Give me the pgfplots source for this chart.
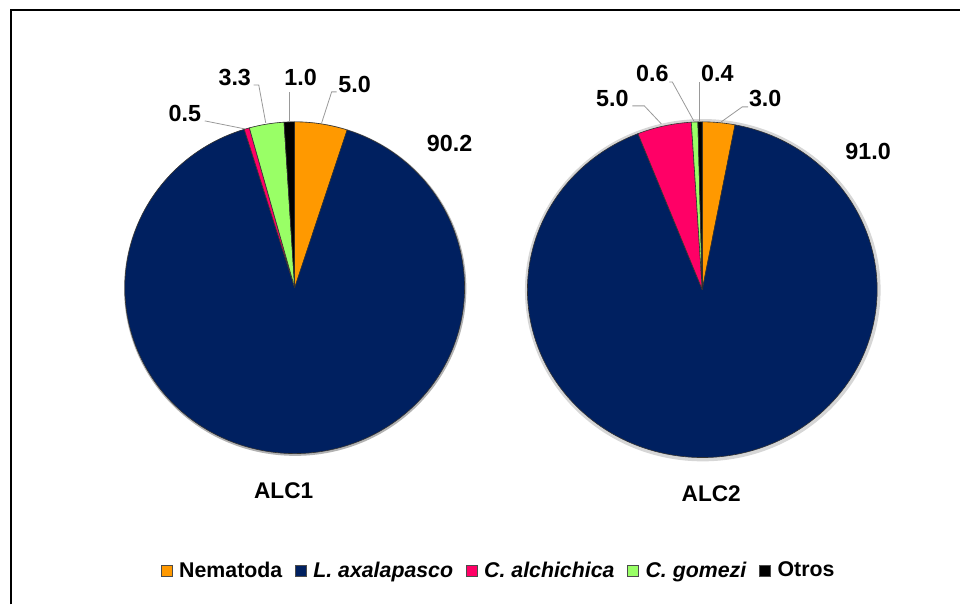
\documentclass[border=0pt]{standalone}
\usepackage{fontspec}
\setmainfont{Liberation Sans}
\usepackage{pgfplots}
\pgfplotsset{compat=1.18}
\definecolor{cNema}{HTML}{FF9900}
\definecolor{cLaxa}{HTML}{002060}
\definecolor{cCalc}{HTML}{FF0066}
\definecolor{cCgom}{HTML}{99FF66}
\definecolor{cOtro}{HTML}{000000}
\newcommand{\labfont}{\fontsize{17.5}{20}\selectfont\bfseries}
\newcommand{\titfont}{\fontsize{17}{20}\selectfont\bfseries}
\newcommand{\legfont}{\fontsize{16}{19}\selectfont\bfseries}
% slice: cx, cy (px), rx, ry (pt), start (%), value (%), colour
\newcommand{\pieslice}[7]{%
  \fill[#7, draw=black!80, line width=0.45pt, line join=round]
    (axis cs:#1,#2) -- ++({90-3.6*(#5)}:{#3} and {#4})
    arc[start angle={90-3.6*(#5)}, end angle={90-3.6*((#5)+(#6))}, x radius=#3, y radius=#4] -- cycle;}
\begin{document}
\begin{tikzpicture}
\begin{axis}[
  x=0.75pt, y=0.75pt,
  xmin=0, xmax=961, ymin=0, ymax=605,
  hide axis, clip=false,
  legend columns=-1,
  legend image code/.code={\draw[#1, line width=0.45pt] (0pt,-4.1pt) rectangle (8.2pt,4.1pt); \path (11.4pt,0pt);},
  legend style={at={(axis cs:499.5,34)}, anchor=center, draw=none, fill=none,
    font=\legfont, inner sep=0pt,
    /tikz/every even column/.append style={column sep=7.5pt}},
]
\path (axis cs:0,0) rectangle (axis cs:961,605);
% frame
\draw[black, line width=1.5pt] (axis cs:11,0) -- (axis cs:11,595) -- (axis cs:961,595);

% ---------- ALC1 : Nematoda 5.0, L. axalapasco 90.2, C. alchichica 0.5, C. gomezi 3.3, Otros 1.0
\fill[black!30] (axis cs:295.5,316) ellipse [x radius=128.5pt, y radius=125.5pt];
\pieslice{295}{317}{127.5pt}{124.5pt}{0}{5.0}{cNema}
\pieslice{295}{317}{127.5pt}{124.5pt}{5.0}{90.2}{cLaxa}
\pieslice{295}{317}{127.5pt}{124.5pt}{95.2}{0.5}{cCalc}
\pieslice{295}{317}{127.5pt}{124.5pt}{95.7}{3.3}{cCgom}
\pieslice{295}{317}{127.5pt}{124.5pt}{99.0}{1.0}{cOtro}

% ---------- ALC2 : Nematoda 3.0, L. axalapasco 91.0, C. alchichica 5.0, C. gomezi 0.6, Otros 0.4
\fill[black!16] (axis cs:703.5,314.5) ellipse [x radius=133.5pt, y radius=128.5pt];
\pieslice{703}{315}{131.25pt}{126pt}{0}{3.0}{cNema}
\pieslice{703}{315}{131.25pt}{126pt}{3.0}{91.0}{cLaxa}
\pieslice{703}{315}{131.25pt}{126pt}{94.0}{5.0}{cCalc}
\pieslice{703}{315}{131.25pt}{126pt}{99.0}{0.6}{cCgom}
\pieslice{703}{315}{131.25pt}{126pt}{99.6}{0.4}{cOtro}

% leader lines
\begin{scope}[black!40, line width=0.6pt]
\draw (axis cs:322,482) -- (axis cs:332,513) -- (axis cs:337,513);
\draw (axis cs:290,483) -- (axis cs:290,513);
\draw (axis cs:266,482) -- (axis cs:259,520) -- (axis cs:254,520);
\draw (axis cs:245,476) -- (axis cs:205,484);
\draw (axis cs:722,483) -- (axis cs:743,498) -- (axis cs:749,498);
\draw (axis cs:700,483) -- (axis cs:700,523);
\draw (axis cs:695,483) -- (axis cs:673,523) -- (axis cs:670,523);
\draw (axis cs:662,481) -- (axis cs:645,499) -- (axis cs:633,499);
\end{scope}

% data labels
\node[font=\labfont] at (axis cs:355,520) {5.0};
\node[font=\labfont] at (axis cs:301,527) {1.0};
\node[font=\labfont] at (axis cs:235,527) {3.3};
\node[font=\labfont] at (axis cs:185,491) {0.5};
\node[font=\labfont] at (axis cs:450,461) {90.2};
\node[font=\labfont] at (axis cs:766,506) {3.0};
\node[font=\labfont] at (axis cs:718,531) {0.4};
\node[font=\labfont] at (axis cs:653,531) {0.6};
\node[font=\labfont] at (axis cs:613,506) {5.0};
\node[font=\labfont] at (axis cs:869,453) {91.0};

% titles
\node[font=\titfont] at (axis cs:284,114) {ALC1};
\node[font=\titfont] at (axis cs:712,111) {ALC2};

% legend
\addlegendimage{fill=cNema, draw=black!70}
\addlegendentry{Nematoda}
\addlegendimage{fill=cLaxa, draw=black!70}
\addlegendentry{\textit{L. axalapasco}}
\addlegendimage{fill=cCalc, draw=black!70}
\addlegendentry{\textit{C. alchichica}}
\addlegendimage{fill=cCgom, draw=black!70}
\addlegendentry{\textit{C. gomezi}}
\addlegendimage{fill=cOtro, draw=black!70}
\addlegendentry{Otros}
\end{axis}
\end{tikzpicture}
\end{document}
